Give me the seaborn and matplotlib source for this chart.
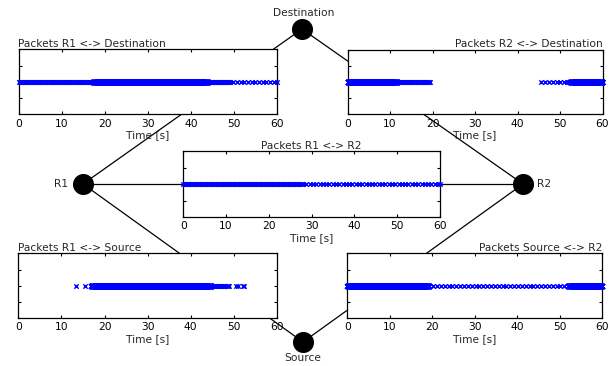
import numpy as np
import pandas as pd
import matplotlib
matplotlib.use("Agg")
import matplotlib.pyplot as plt
import seaborn as sns

sns.set_style("white")
plt.rcParams['font.family'] = ['DejaVu Sans']
FS = 7.7

# ---- network topology (pixel space of the figure) ----
node_names = ["Destination", "R1", "R2", "Source"]
node_x = [302, 83, 523, 303]
node_y = [29, 184, 184, 342]
link_a = ["Destination", "Destination", "R1", "R1", "R2"]
link_b = ["R1", "R2", "R2", "Source", "Source"]

# ---- packet panels ----
panel_titles = ["Packets R1 <-> Destination", "Packets R2 <-> Destination",
                "Packets R1 <-> R2", "Packets R1 <-> Source",
                "Packets Source <-> R2"]
xticks = [0, 10, 20, 30, 40, 50, 60]

# bursts of packets: start [s], end [s], packets per second ; plus single packets [s]
r1_dest_start = [0.0, 17.3, 44.0]
r1_dest_end = [17.3, 44.0, 49.3]
r1_dest_rate = [4, 200, 5]
r1_dest_single = [49.9, 50.8, 51.6, 52.4, 53.2, 54.1, 55.0, 55.8, 56.7,
                  57.5, 58.4, 59.2, 60.0]

r2_dest_start = [0.0, 11.7, 52.4]
r2_dest_end = [11.7, 19.5, 60.0]
r2_dest_rate = [200, 4, 200]
r2_dest_single = [45.5, 46.4, 47.3, 48.3, 49.2, 50.1, 50.9, 51.6, 52.1]

r1_r2_start = [0.0, 28.0]
r1_r2_end = [28.0, 60.0]
r1_r2_rate = [3.5, 1.3]
r1_r2_single = [60.0]

r1_src_start = [16.9, 44.8]
r1_src_end = [44.8, 49.0]
r1_src_rate = [200, 4]
r1_src_single = [13.3, 15.4, 50.5, 50.9, 52.0, 52.4]

src_r2_start = [0.0, 19.3, 52.0]
src_r2_end = [19.3, 51.5, 60.0]
src_r2_rate = [200, 1.1, 200]
src_r2_single = []

panel_data = [
    (r1_dest_start, r1_dest_end, r1_dest_rate, r1_dest_single),
    (r2_dest_start, r2_dest_end, r2_dest_rate, r2_dest_single),
    (r1_r2_start, r1_r2_end, r1_r2_rate, r1_r2_single),
    (r1_src_start, r1_src_end, r1_src_rate, r1_src_single),
    (src_r2_start, src_r2_end, src_r2_rate, src_r2_single),
]

W, H = 609, 366
# panel boxes in pixels: left, top, right, bottom
panel_box = [(18.5, 49.3, 277, 114.5), (347.7, 49.5, 602.5, 114.5),
             (183.3, 151, 440, 217.3), (18.3, 253.3, 277, 318.3),
             (347.3, 253.3, 602, 318.3)]
title_loc = ["left", "right", "center", "left", "right"]

fig = plt.figure(figsize=(W / 100, H / 100), dpi=100)
fig.patch.set_facecolor("white")

bg = fig.add_axes([0, 0, 1, 1], zorder=0)
bg.set_xlim(0, W)
bg.set_ylim(H, 0)
bg.axis("off")
pos = {n: (x, y) for n, x, y in zip(node_names, node_x, node_y)}
for a, b in zip(link_a, link_b):
    bg.plot([pos[a][0], pos[b][0]], [pos[a][1], pos[b][1]], color="black", lw=0.9, zorder=1)
bg.scatter(node_x, node_y, s=200, color="black", zorder=3)
bg.text(pos["Destination"][0] + 2, pos["Destination"][1] - 16, "Destination", ha="center", va="center", fontsize=FS)
bg.text(pos["R1"][0] - 15, pos["R1"][1], "R1", ha="right", va="center", fontsize=FS)
bg.text(pos["R2"][0] + 14, pos["R2"][1], "R2", ha="left", va="center", fontsize=FS)
bg.text(pos["Source"][0], pos["Source"][1] + 16, "Source", ha="center", va="center", fontsize=FS)

for i, (title, (st, en, rt, sg)) in enumerate(zip(panel_titles, panel_data)):
    l, t, r, b = panel_box[i]
    ax = fig.add_axes([l / W, (H - b) / H, (r - l) / W, (b - t) / H], zorder=2)
    ax.set_facecolor("white")
    times = []
    for s0, e0, rr in zip(st, en, rt):
        times.append(np.arange(s0, e0, 1.0 / rr))
    times.append(np.array(sg, dtype=float))
    times = np.concatenate(times)
    df = pd.DataFrame({"t": times, "y": np.zeros_like(times)})
    sns.scatterplot(data=df, x="t", y="y", marker="x", color="#0000ff", s=10,
                    linewidth=1.0, ax=ax, legend=False, clip_on=False, zorder=3)
    ax.set_xlim(0, 60)
    ax.set_ylim(-1, 1)
    ax.set_xticks(xticks)
    ax.set_xticklabels([str(v) for v in xticks], fontsize=FS)
    ax.set_yticks([-0.5, 0, 0.5])
    ax.set_yticklabels([])
    ax.set_ylabel("")
    ax.set_xlabel("Time [s]", fontsize=FS, labelpad=1)
    ax.tick_params(direction="in", length=2.5, width=0.8, top=True, right=True,
                   bottom=True, left=True, pad=3, colors="black")
    for sp in ax.spines.values():
        sp.set_color("black")
        sp.set_linewidth(0.9)
        sp.set_visible(True)
    ax.set_title(title, loc=title_loc[i], fontsize=FS, pad=1.5)

fig.savefig("out.png", dpi=100, facecolor="white")
